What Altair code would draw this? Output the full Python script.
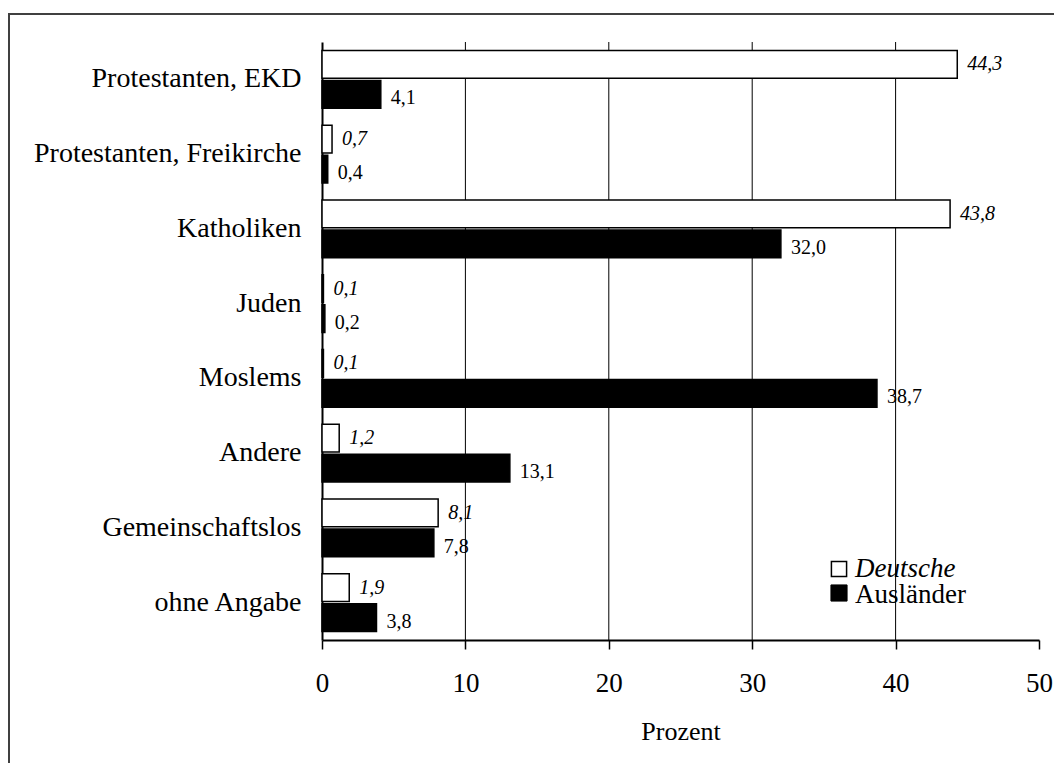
import altair as alt
import pandas as pd

categories = ["Protestanten, EKD", "Protestanten, Freikirche", "Katholiken", "Juden",
              "Moslems", "Andere", "Gemeinschaftslos", "ohne Angabe"]
deutsche = [44.3, 0.7, 43.8, 0.1, 0.1, 1.2, 8.1, 1.9]
auslaender = [4.1, 0.4, 32.0, 0.2, 38.7, 13.1, 7.8, 3.8]
groups = ["Deutsche", "Ausländer"]
x_ticks = [0, 10, 20, 30, 40, 50]
grid_values = [10, 20, 30, 40]

rows = []
for c, d, a in zip(categories, deutsche, auslaender):
    rows.append({"Kategorie": c, "Gruppe": groups[0], "Prozent": d})
    rows.append({"Kategorie": c, "Gruppe": groups[1], "Prozent": a})
df = pd.DataFrame(rows)
grid_df = pd.DataFrame({"g": grid_values})
one = pd.DataFrame({"k": [0]})

FONT = "Liberation Serif"
W, H = 717, 598

x_scale = alt.Scale(domain=[0, 50], nice=False, zero=True)
x_axis = alt.Axis(values=x_ticks, grid=False, domainColor="black", domainWidth=2,
                  tickColor="black", tickWidth=1.5, tickSize=9, labelFont=FONT,
                  labelFontSize=27, labelColor="black", labelPadding=21, labelFlush=False,
                  format="d", title="Prozent", titleFont=FONT, titleFontSize=26,
                  titleFontWeight="normal", titleColor="black", titleBaseline="alphabetic",
                  titleY=99)
y_axis = alt.Axis(title=None, ticks=False, domainColor="black", domainWidth=2,
                  labelFont=FONT, labelFontSize=28, labelColor="black", labelPadding=21,
                  labelLimit=400)
y_scale = alt.Scale(paddingInner=0.227, paddingOuter=0.1135)
yoff_scale = alt.Scale(domain=groups, paddingInner=0.07, paddingOuter=0)

X = alt.X("Prozent:Q", scale=x_scale, axis=x_axis)
Y = alt.Y("Kategorie:N", sort=categories, scale=y_scale, axis=y_axis)
YO = alt.YOffset("Gruppe:N", sort=groups, scale=yoff_scale)

frame = alt.Chart(one).mark_rect(fill=None, stroke="#404040", strokeWidth=2).encode(
    x=alt.value(-313), x2=alt.value(760), y=alt.value(-28), y2=alt.value(760))

grid = alt.Chart(grid_df).mark_rule(color="black", strokeWidth=1).encode(
    x=alt.X("g:Q", scale=x_scale, axis=x_axis), y=alt.value(0), y2=alt.value(H))

bars = alt.Chart(df).mark_bar(stroke="black", strokeWidth=1.5).encode(
    x=X, y=Y, yOffset=YO,
    fill=alt.Fill("Gruppe:N", scale=alt.Scale(domain=groups, range=["white", "black"]), legend=None))

lab_base = alt.Chart(df).transform_calculate(
    lab="replace(format(datum.Prozent, '.1f'), '.', ',')")

lab_d = lab_base.transform_filter(alt.datum.Gruppe == groups[0]).mark_text(
    align="left", baseline="middle", dx=10, font=FONT, fontSize=20, fontStyle="italic",
    color="black").encode(x=X, y=Y, yOffset=YO, text="lab:N")
lab_a = lab_base.transform_filter(alt.datum.Gruppe == groups[1]).mark_text(
    align="left", baseline="middle", dx=10, dy=4, font=FONT, fontSize=20,
    color="black").encode(x=X, y=Y, yOffset=YO, text="lab:N")

leg_sq1 = alt.Chart(one).mark_point(shape="square", size=230, filled=True, fill="white",
                                    stroke="black", strokeWidth=1.5, opacity=1).encode(
    x=alt.value(517), y=alt.value(527))
leg_sq2 = alt.Chart(one).mark_point(shape="square", size=260, filled=True, fill="black",
                                    stroke="black", strokeWidth=1, opacity=1).encode(
    x=alt.value(517), y=alt.value(551))
leg_t1 = alt.Chart(one).mark_text(align="left", baseline="alphabetic", font=FONT,
                                  fontSize=27, fontStyle="italic", color="black").encode(
    x=alt.value(533), y=alt.value(535), text=alt.value("Deutsche"))
leg_t2 = alt.Chart(one).mark_text(align="left", baseline="alphabetic", font=FONT,
                                  fontSize=27, color="black").encode(
    x=alt.value(533), y=alt.value(561), text=alt.value("Ausländer"))

chart = alt.layer(frame, grid, bars, lab_d, lab_a, leg_sq1, leg_sq2, leg_t1, leg_t2).properties(
    width=W, height=H,
    autosize=alt.AutoSizeParams(type="none"),
    padding={"left": 314, "top": 34, "right": 15, "bottom": 123},
    background="white",
).configure_view(stroke=None)

chart.save("out.html", embed_options={"renderer": "svg", "actions": False})
